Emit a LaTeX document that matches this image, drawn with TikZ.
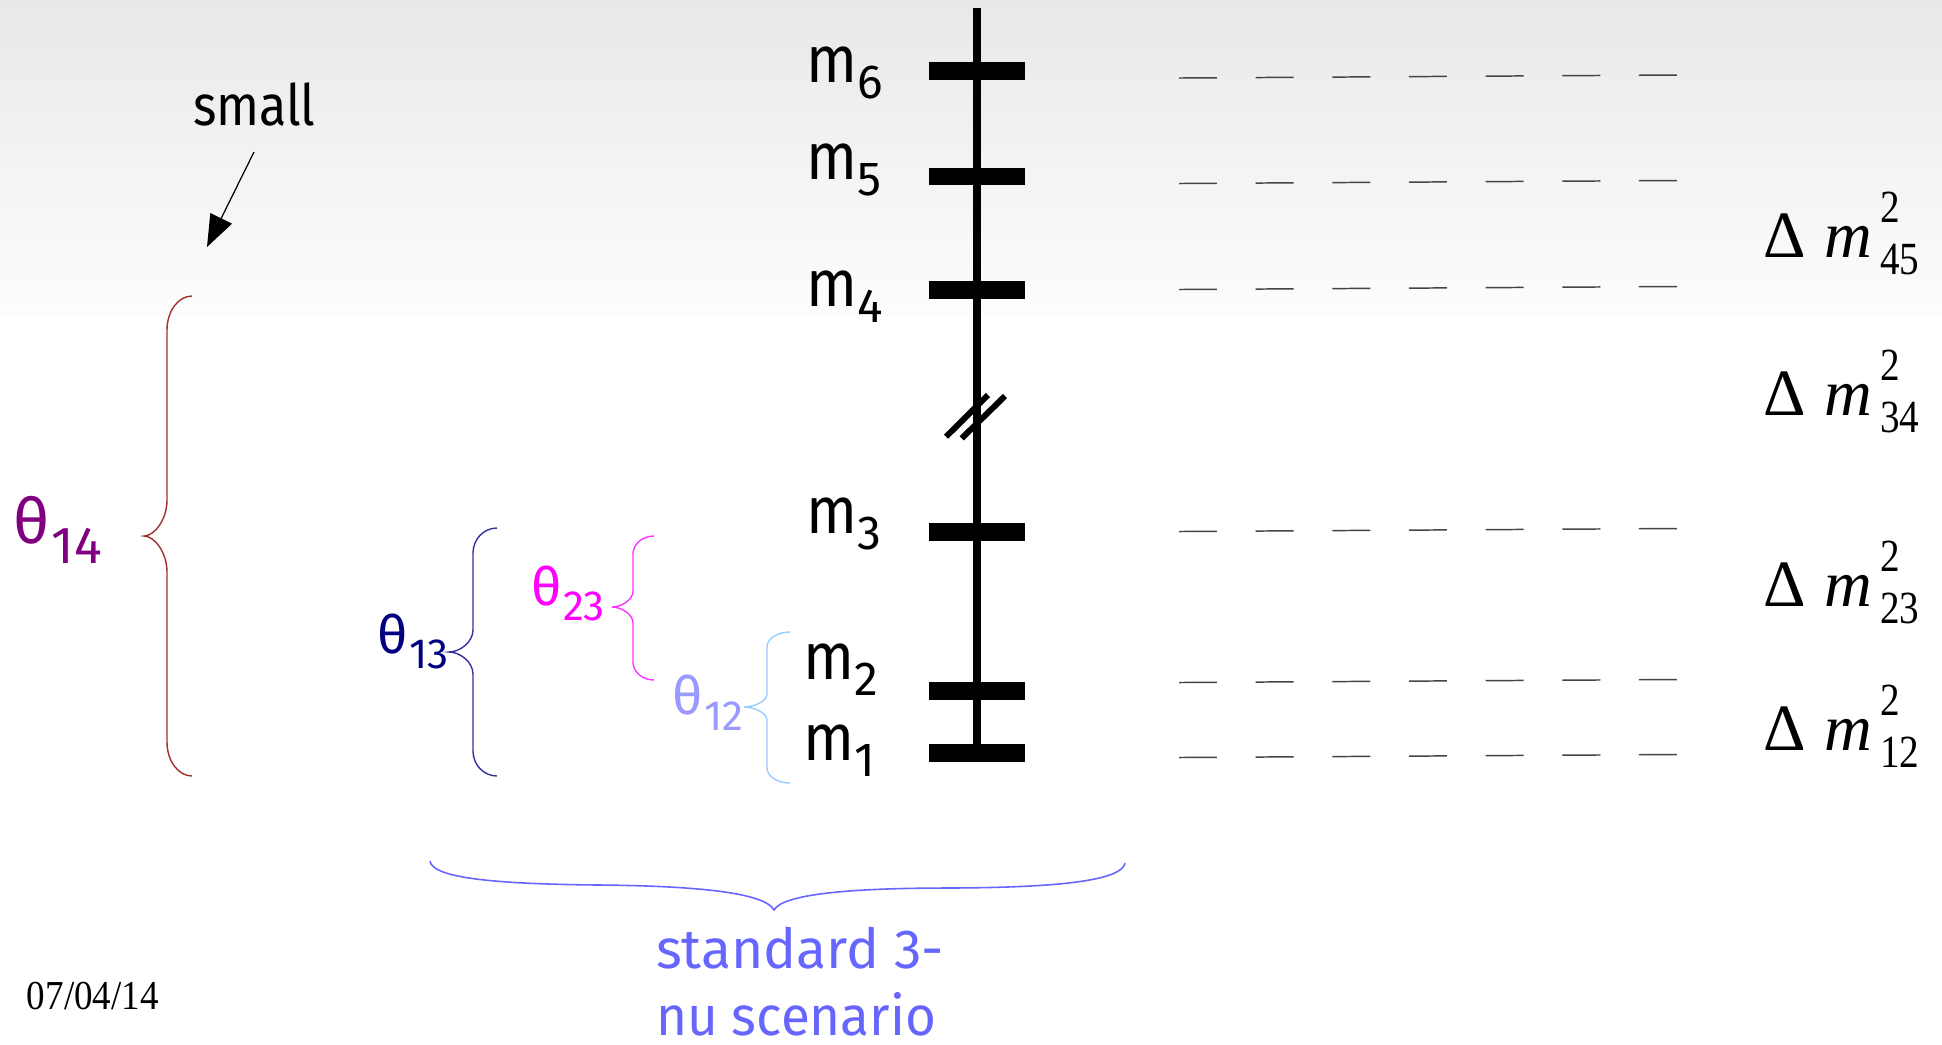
\documentclass[tikz,border=0pt]{standalone}
\usepackage{fontspec}
\newfontfamily\cs{Fira Sans}
\newfontfamily\ser{Liberation Serif}
\usetikzlibrary{arrows.meta}
\definecolor{thpurple}{HTML}{800080}
\definecolor{thnavy}{HTML}{000080}
\definecolor{thmag}{HTML}{FF00FF}
\definecolor{thlight}{HTML}{9999FF}
\definecolor{brred}{HTML}{A0302D}
\definecolor{brnavy}{HTML}{333399}
\definecolor{brmag}{HTML}{FF33FF}
\definecolor{brlight}{HTML}{99CCFF}
\definecolor{stdblue}{HTML}{6666FF}
\definecolor{dashgray}{HTML}{444444}
\newcommand\mlab[1]{{\cs\fontsize{18.8pt}{20pt}\selectfont\scalebox{0.9}[1]{m}}\hspace{0.2pt}\raisebox{-4.8pt}{\cs\fontsize{13.6pt}{14pt}\selectfont #1}}
\newcommand\thlab[4]{{\cs\fontsize{#1}{#1}\selectfont θ}\hspace{0.5pt}\raisebox{-#3}{\cs\fontsize{#2}{#2}\selectfont #4}}
\newcommand\dmlab{{\ser\fontsize{18.8pt}{20pt}\selectfont Δ\hspace{5.5pt}\textit{m}}}
\newcommand\scrlab[1]{{\ser\fontsize{13.1pt}{14pt}\selectfont\scalebox{0.85}[1]{\rlap{\raisebox{9.9pt}{2}}\raisebox{-5.1pt}{#1}}}}
% #1 colour, #2 xend, #3 xv, #4 xtip, #5 ytop, #6 ymid, #7 ybot, #8 rend, #9 rmid
\newcommand\mybrace[9]{%
 \draw[#1, line width=0.4pt] (#2,#5) .. controls ({#2-(#2-#3)*0.552},#5) and (#3,{#5+#8*0.448}) .. (#3,{#5+#8})
   -- (#3,{#6-#9}) .. controls (#3,{#6-#9*0.448}) and ({#3-(#3-#4)*0.552},#6) .. (#4,#6)
   .. controls ({#3-(#3-#4)*0.552},#6) and (#3,{#6+#9*0.448}) .. (#3,{#6+#9})
   -- (#3,{#7-#8}) .. controls (#3,{#7-#8*0.448}) and ({#2-(#2-#3)*0.552},#7) .. (#2,#7);}
\begin{document}
\begin{tikzpicture}[x=0.01cm,y=-0.01cm,
  lbl/.style={anchor=base west,inner sep=0pt,outer sep=0pt},
  levelbar/.style={line width=5.1pt},
  dashline/.style={dashgray,line width=0.42pt,dash pattern=on 10.8pt off 11pt}]
\useasboundingbox (0,0) rectangle (1942,1044);
\fill[white] (0,0) rectangle (1942,1044);
% background gradient (top grey fading to white)
\foreach \i in {0,...,44} {
  \pgfmathsetmacro\pc{8.8-7.9*\i/44}
  \fill[black!\pc] (0,{\i*7}) rectangle (1942,{\i*7+7.6});
}
% axis and levels
\draw[line width=2pt] (977,8) -- (977,753);
\foreach \y in {71.4,176.5,290,532,691,753} \draw[levelbar] (929,\y) -- (1025,\y);
% break mark
\draw[line width=1.7pt] (946,436.7) -- (988,395);
\draw[line width=1.7pt] (961.7,438.3) -- (1005,396);
% dashed level lines
\foreach \y in {76.5,182,288,530,681,756} \draw[dashline] (1179,{\y+1.5}) -- (1677,{\y-1.5});
% mass labels
\node[lbl] (m6) at (806,82) {\mlab{6}};
\node[lbl] (m5) at (806,179) {\mlab{5}};
\node[lbl] (m4) at (806,306) {\mlab{4}};
\node[lbl] (m3) at (806,533) {\mlab{3}};
\node[lbl] (m2) at (803,679) {\mlab{2}};
\node[lbl] (m1) at (803,760) {\mlab{1}};
% delta m^2 labels
\node[lbl] (d45) at (1763,257) {\dmlab};
\node[lbl] (s45) at (1880,257) {\scrlab{45}};
\node[lbl] (d34) at (1763,415) {\dmlab};
\node[lbl] (s34) at (1880,415) {\scrlab{34}};
\node[lbl] (d23) at (1763,606) {\dmlab};
\node[lbl] (s23) at (1880,606) {\scrlab{23}};
\node[lbl] (d12) at (1763,750) {\dmlab};
\node[lbl] (s12) at (1880,750) {\scrlab{12}};
% braces
\mybrace{brred}{192}{167}{144}{296}{536}{776}{34}{36}
\mybrace{brnavy}{497}{473}{449}{528}{652}{776}{25}{22}
\mybrace{brmag}{654}{633}{612}{536}{607}{680}{18}{16}
\mybrace{brlight}{790}{767}{744}{632}{707}{783}{15}{13}
% theta labels
\node[lbl,text=thpurple] (t14) at (14,543) {\thlab{17.9pt}{14.8pt}{5.7pt}{14}};
\node[lbl,text=thnavy] (t13) at (377,653) {\thlab{15pt}{12pt}{4.3pt}{13}};
\node[lbl,text=thmag] (t23) at (531,605) {\thlab{15pt}{12pt}{4.3pt}{23}};
\node[lbl,text=thlight] (t12) at (672,714) {\thlab{15pt}{12pt}{4.6pt}{12}};
% small + arrow
\node[lbl] (small) at (193,125) {\cs\fontsize{16.2pt}{17pt}\selectfont\scalebox{0.88}[1]{small}};
\coordinate (aS) at (254,152);
\coordinate (aE) at (207,247);
\draw[line width=0.35pt,-{Triangle[length=9.1pt,width=6.8pt]}] (aS) -- (aE);
% bottom brace and text
\draw[stdblue,line width=0.45pt] (430,861) .. controls (432,876) and (480,884) .. (600,885)
  .. controls (700,886) and (765,893) .. (774,910)
  .. controls (783,894) and (850,888) .. (950,888)
  .. controls (1070,887.5) and (1122,879) .. (1125,863);
\node[lbl,text=stdblue] (std1) at (656,968) {\cs\fontsize{15.7pt}{17pt}\selectfont standard 3-};
\node[lbl,text=stdblue] (std2) at (656,1035) {\cs\fontsize{15.7pt}{17pt}\selectfont\scalebox{0.96}[1]{nu scenario}};
% date
\node[lbl] (date) at (27,1009) {\ser\fontsize{11.7pt}{12pt}\selectfont\scalebox{0.9}[1]{07/04/14}};
\end{tikzpicture}
\end{document}
